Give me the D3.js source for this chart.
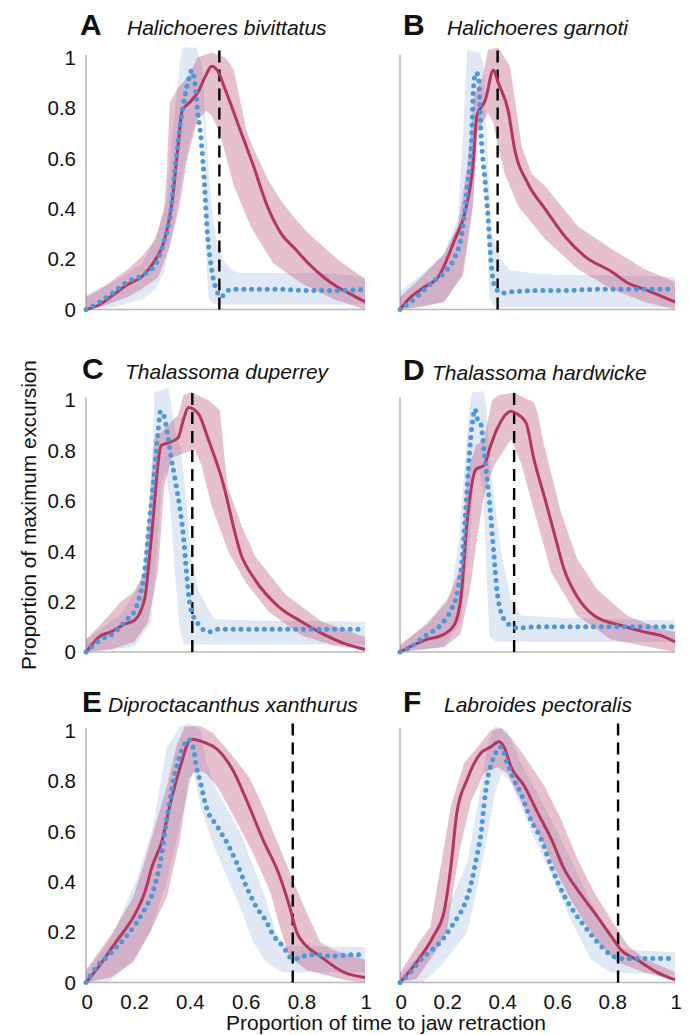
<!DOCTYPE html>
<html><head><meta charset="utf-8">
<script src="https://cdn.jsdelivr.net/npm/d3@7"></script>
<style>
body{margin:0;background:#fff}
svg{display:block}
text{font-family:"Liberation Sans",Arial,Helvetica,sans-serif;fill:#111}
</style>
</head><body>
<svg id="chart" width="689" height="1035"></svg>
<script>
// ---------------- DATA ----------------
const panelLetters = ["A","B","C","D","E","F"];
const speciesNames = ["Halichoeres bivittatus","Halichoeres garnoti","Thalassoma duperrey","Thalassoma hardwicke","Diproctacanthus xanthurus","Labroides pectoralis"];
const jawRetraction = [0.478, 0.355, 0.381, 0.415, 0.741, 0.793];
const yTickValues = [0, 0.2, 0.4, 0.6, 0.8, 1];
const yTickLabels = ["0","0.2","0.4","0.6","0.8","1"];
const xTickValues = [0, 0.2, 0.4, 0.6, 0.8, 1];
const xTickLabels = ["0","0.2","0.4","0.6","0.8","1"];
const xTitle = "Proportion of time to jaw retraction";
const yTitle = "Proportion of maximum excursion";

// Panel A
const A_pinkMean = [[0,0],[0.05,0.02],[0.1,0.06],[0.15,0.1],[0.2,0.13],[0.25,0.2],[0.28,0.27],[0.31,0.44],[0.33,0.65],[0.345,0.79],[0.37,0.82],[0.4,0.86],[0.43,0.93],[0.45,0.965],[0.47,0.95],[0.5,0.87],[0.55,0.72],[0.6,0.57],[0.65,0.41],[0.7,0.3],[0.75,0.24],[0.8,0.18],[0.85,0.13],[0.9,0.09],[0.95,0.06],[1,0.03]];
const A_pinkHi = [[0,0.05],[0.05,0.08],[0.1,0.12],[0.15,0.16],[0.2,0.21],[0.25,0.28],[0.28,0.4],[0.29,0.55],[0.3,0.82],[0.33,0.88],[0.37,0.93],[0.4,1.0],[0.45,1.02],[0.5,1.0],[0.53,0.95],[0.575,0.71],[0.6,0.64],[0.65,0.52],[0.7,0.43],[0.75,0.36],[0.8,0.3],[0.85,0.25],[0.9,0.2],[0.95,0.16],[1,0.12]];
const A_pinkLo = [[0,0],[0.05,0.01],[0.1,0.03],[0.15,0.05],[0.2,0.08],[0.26,0.13],[0.3,0.25],[0.335,0.41],[0.36,0.58],[0.38,0.67],[0.4,0.75],[0.43,0.79],[0.45,0.77],[0.48,0.7],[0.53,0.49],[0.59,0.33],[0.67,0.185],[0.77,0.105],[0.89,0.04],[1,0.0]];
const A_blueMean = [[0,0],[0.05,0.03],[0.1,0.07],[0.15,0.11],[0.2,0.135],[0.25,0.18],[0.28,0.27],[0.3,0.36],[0.32,0.57],[0.34,0.75],[0.355,0.85],[0.367,0.91],[0.38,0.95],[0.39,0.9],[0.4,0.79],[0.413,0.67],[0.425,0.49],[0.435,0.3],[0.445,0.2],[0.455,0.13],[0.47,0.07],[0.485,0.05],[0.5,0.07],[0.525,0.08],[0.6,0.08],[0.7,0.08],[0.8,0.075],[0.9,0.075],[1,0.08]];
const A_blueHi = [[0,0.06],[0.1,0.11],[0.2,0.18],[0.23,0.24],[0.26,0.32],[0.29,0.44],[0.31,0.7],[0.335,0.965],[0.345,1.04],[0.395,1.04],[0.418,0.965],[0.43,0.7],[0.443,0.5],[0.453,0.37],[0.47,0.26],[0.49,0.2],[0.52,0.16],[0.55,0.145],[0.7,0.145],[0.85,0.145],[1,0.13]];
const A_blueLo = [[0,0],[0.1,0.01],[0.2,0.04],[0.25,0.08],[0.28,0.15],[0.31,0.3],[0.34,0.5],[0.37,0.66],[0.4,0.77],[0.415,0.79],[0.423,0.72],[0.428,0.45],[0.433,0.15],[0.44,0.04],[0.46,0.02],[1,0.02]];

// Panel B
const B_pinkMean = [[0,0],[0.03,0.04],[0.09,0.09],[0.14,0.13],[0.2,0.28],[0.236,0.385],[0.265,0.57],[0.28,0.77],[0.31,0.83],[0.34,0.95],[0.357,0.9],[0.393,0.79],[0.418,0.63],[0.465,0.5],[0.527,0.4],[0.6,0.29],[0.673,0.21],[0.77,0.15],[0.83,0.104],[0.89,0.08],[0.935,0.06],[1,0.03]];
const B_pinkHi = [[0,0.05],[0.07,0.12],[0.16,0.22],[0.21,0.33],[0.245,0.57],[0.27,0.85],[0.3,0.92],[0.32,1.03],[0.357,1.04],[0.4,0.965],[0.418,0.83],[0.442,0.65],[0.478,0.54],[0.527,0.49],[0.647,0.33],[0.77,0.24],[0.89,0.16],[1,0.11]];
const B_pinkLo = [[0,0],[0.08,0.01],[0.16,0.03],[0.23,0.14],[0.265,0.41],[0.28,0.7],[0.32,0.78],[0.34,0.74],[0.353,0.66],[0.38,0.54],[0.43,0.41],[0.527,0.28],[0.647,0.16],[0.77,0.08],[0.89,0.03],[1,0.0]];
const B_blueMean = [[0,0],[0.05,0.04],[0.09,0.08],[0.12,0.11],[0.16,0.145],[0.2,0.21],[0.225,0.3],[0.245,0.49],[0.26,0.67],[0.265,0.83],[0.275,0.94],[0.285,0.93],[0.29,0.83],[0.295,0.7],[0.31,0.5],[0.32,0.37],[0.33,0.2],[0.345,0.09],[0.37,0.065],[0.405,0.07],[0.5,0.075],[0.6,0.075],[0.7,0.08],[0.8,0.08],[0.9,0.08],[1,0.08]];
const B_blueHi = [[0,0.07],[0.1,0.16],[0.16,0.22],[0.21,0.36],[0.23,0.7],[0.24,0.965],[0.245,1.03],[0.29,1.02],[0.306,0.96],[0.312,0.76],[0.32,0.58],[0.33,0.31],[0.367,0.2],[0.4,0.155],[0.527,0.14],[0.8,0.135],[1,0.13]];
const B_blueLo = [[0,0],[0.16,0.03],[0.225,0.13],[0.26,0.37],[0.28,0.6],[0.295,0.72],[0.305,0.74],[0.31,0.6],[0.318,0.3],[0.325,0.05],[0.345,0.01],[1,0.01]];

// Panel C
const C_pinkMean = [[0,0],[0.054,0.065],[0.09,0.08],[0.137,0.11],[0.173,0.125],[0.21,0.21],[0.234,0.45],[0.27,0.82],[0.295,0.83],[0.33,0.85],[0.35,0.925],[0.367,0.97],[0.403,0.945],[0.438,0.845],[0.486,0.69],[0.558,0.38],[0.604,0.29],[0.69,0.18],[0.773,0.12],[0.835,0.08],[0.935,0.03],[1,0.01]];
const C_pinkHi = [[0,0.05],[0.054,0.11],[0.126,0.2],[0.173,0.24],[0.21,0.32],[0.227,0.58],[0.245,0.845],[0.28,0.885],[0.33,0.94],[0.35,1.02],[0.378,1.03],[0.438,1.0],[0.48,0.96],[0.49,0.84],[0.507,0.66],[0.558,0.5],[0.606,0.38],[0.713,0.23],[0.847,0.12],[1,0.06]];
const C_pinkLo = [[0,0],[0.09,0.01],[0.173,0.04],[0.223,0.12],[0.258,0.32],[0.28,0.65],[0.306,0.77],[0.353,0.79],[0.39,0.805],[0.414,0.74],[0.45,0.58],[0.51,0.4],[0.57,0.28],[0.655,0.16],[0.773,0.065],[0.89,0.025],[1,0.01]];
const C_blueMean = [[0,0],[0.054,0.05],[0.1,0.075],[0.147,0.13],[0.173,0.16],[0.19,0.21],[0.21,0.32],[0.227,0.515],[0.245,0.71],[0.258,0.87],[0.267,0.955],[0.28,0.935],[0.295,0.845],[0.306,0.765],[0.317,0.7],[0.335,0.58],[0.35,0.45],[0.36,0.32],[0.374,0.18],[0.403,0.11],[0.44,0.08],[0.47,0.09],[0.6,0.09],[0.8,0.09],[1,0.09]];
const C_blueHi = [[0,0.05],[0.126,0.15],[0.2,0.28],[0.227,0.58],[0.24,0.845],[0.245,1.03],[0.295,1.05],[0.306,0.98],[0.32,0.88],[0.34,0.8],[0.36,0.6],[0.375,0.4],[0.403,0.24],[0.46,0.13],[0.6,0.125],[1,0.12]];
const C_blueLo = [[0,0],[0.173,0.02],[0.234,0.12],[0.258,0.45],[0.27,0.66],[0.285,0.72],[0.3,0.6],[0.32,0.3],[0.335,0.1],[0.35,0.03],[1,0.03]];

// Panel D
const D_pinkMean = [[0,0],[0.098,0.05],[0.15,0.065],[0.196,0.105],[0.222,0.22],[0.244,0.515],[0.276,0.725],[0.305,0.74],[0.33,0.82],[0.353,0.885],[0.404,0.955],[0.425,0.945],[0.458,0.91],[0.487,0.765],[0.524,0.62],[0.56,0.475],[0.596,0.33],[0.644,0.22],[0.705,0.145],[0.804,0.105],[0.887,0.08],[0.95,0.065],[1,0.04]];
const D_pinkHi = [[0,0.03],[0.098,0.11],[0.17,0.2],[0.222,0.34],[0.244,0.71],[0.276,0.82],[0.305,0.84],[0.335,1.0],[0.36,1.02],[0.415,1.03],[0.487,0.99],[0.5,0.95],[0.524,0.82],[0.585,0.555],[0.644,0.37],[0.716,0.25],[0.825,0.145],[0.95,0.09],[1,0.08]];
const D_pinkLo = [[0,0],[0.16,0.02],[0.22,0.07],[0.255,0.25],[0.28,0.45],[0.305,0.62],[0.342,0.74],[0.404,0.845],[0.44,0.75],[0.483,0.58],[0.55,0.315],[0.644,0.145],[0.767,0.05],[1,0]];
const D_blueMean = [[0,0],[0.04,0.02],[0.087,0.06],[0.15,0.11],[0.185,0.165],[0.21,0.245],[0.227,0.38],[0.24,0.58],[0.252,0.78],[0.262,0.9],[0.273,0.965],[0.28,0.93],[0.295,0.9],[0.305,0.805],[0.318,0.675],[0.33,0.54],[0.342,0.38],[0.353,0.24],[0.378,0.13],[0.404,0.105],[0.425,0.095],[0.5,0.1],[0.6,0.1],[0.7,0.1],[0.8,0.1],[0.9,0.1],[1,0.1]];
const D_blueHi = [[0,0.02],[0.1,0.12],[0.185,0.23],[0.215,0.45],[0.233,0.71],[0.252,0.975],[0.262,1.03],[0.305,1.035],[0.315,0.97],[0.33,0.715],[0.37,0.38],[0.404,0.21],[0.44,0.145],[0.6,0.135],[1,0.125]];
const D_blueLo = [[0,0],[0.16,0.02],[0.222,0.12],[0.255,0.45],[0.27,0.7],[0.29,0.72],[0.305,0.6],[0.315,0.3],[0.325,0.06],[0.35,0.04],[1,0.04]];

// Panel E
const E_pinkMean = [[0,0],[0.047,0.065],[0.107,0.16],[0.18,0.28],[0.21,0.355],[0.237,0.46],[0.273,0.565],[0.3,0.7],[0.335,0.845],[0.377,0.965],[0.43,0.95],[0.465,0.93],[0.525,0.845],[0.575,0.725],[0.635,0.565],[0.695,0.42],[0.73,0.3],[0.755,0.2],[0.79,0.145],[0.838,0.105],[0.925,0.04],[1,0.02]];
const E_pinkHi = [[0,0.05],[0.097,0.2],[0.17,0.34],[0.205,0.46],[0.25,0.63],[0.29,0.78],[0.325,0.94],[0.353,1.015],[0.406,1.02],[0.455,0.99],[0.525,0.9],[0.588,0.81],[0.635,0.695],[0.7,0.52],[0.74,0.41],[0.79,0.28],[0.84,0.16],[0.885,0.13],[1,0.09]];
const E_pinkLo = [[0,0],[0.087,0.02],[0.17,0.08],[0.23,0.2],[0.29,0.34],[0.335,0.56],[0.37,0.81],[0.394,0.845],[0.43,0.83],[0.475,0.77],[0.525,0.67],[0.6,0.51],[0.66,0.36],[0.7,0.2],[0.73,0.1],[0.79,0.05],[0.925,0.01],[1,0]];
const E_blueMean = [[0,0],[0.04,0.065],[0.087,0.115],[0.135,0.17],[0.17,0.22],[0.205,0.28],[0.24,0.36],[0.265,0.47],[0.29,0.65],[0.315,0.81],[0.345,0.925],[0.367,0.965],[0.385,0.93],[0.395,0.86],[0.41,0.795],[0.43,0.7],[0.47,0.62],[0.505,0.555],[0.54,0.475],[0.575,0.38],[0.61,0.3],[0.645,0.245],[0.67,0.19],[0.705,0.145],[0.74,0.095],[0.76,0.095],[0.795,0.11],[0.83,0.11],[0.88,0.105],[0.95,0.11],[1,0.11]];
const E_blueHi = [[0,0.04],[0.087,0.17],[0.182,0.41],[0.24,0.62],[0.29,0.935],[0.338,1.015],[0.37,1.03],[0.41,1.0],[0.43,0.88],[0.46,0.78],[0.505,0.69],[0.555,0.59],[0.6,0.46],[0.645,0.33],[0.68,0.2],[0.715,0.145],[0.8,0.145],[1,0.14]];
const E_blueLo = [[0,0],[0.087,0.005],[0.17,0.09],[0.23,0.2],[0.29,0.4],[0.335,0.62],[0.385,0.84],[0.41,0.7],[0.455,0.55],[0.505,0.42],[0.555,0.29],[0.6,0.16],[0.645,0.08],[0.705,0.04],[1,0.04]];

// Panel F
const F_pinkMean = [[0,0],[0.06,0.08],[0.122,0.185],[0.16,0.28],[0.185,0.46],[0.207,0.675],[0.244,0.805],[0.293,0.91],[0.33,0.935],[0.36,0.955],[0.378,0.935],[0.404,0.855],[0.452,0.78],[0.5,0.675],[0.55,0.57],[0.597,0.45],[0.644,0.37],[0.705,0.28],[0.767,0.185],[0.803,0.13],[0.862,0.09],[0.935,0.04],[1,0.01]];
const F_pinkHi = [[0,0.04],[0.07,0.16],[0.11,0.22],[0.148,0.46],[0.185,0.7],[0.233,0.87],[0.282,0.935],[0.33,1.0],[0.367,1.01],[0.404,0.97],[0.452,0.9],[0.525,0.78],[0.585,0.65],[0.645,0.49],[0.705,0.36],[0.767,0.25],[0.83,0.145],[0.89,0.095],[1,0.04]];
const F_pinkLo = [[0,0],[0.06,0.015],[0.122,0.11],[0.17,0.2],[0.195,0.38],[0.22,0.54],[0.257,0.715],[0.305,0.83],[0.355,0.855],[0.39,0.83],[0.426,0.75],[0.476,0.645],[0.525,0.545],[0.575,0.425],[0.62,0.33],[0.67,0.24],[0.73,0.145],[0.79,0.08],[0.89,0.04],[1,0.01]];
const F_blueMean = [[0,0],[0.037,0.04],[0.085,0.1],[0.122,0.135],[0.158,0.175],[0.183,0.215],[0.207,0.255],[0.233,0.305],[0.257,0.385],[0.27,0.45],[0.282,0.515],[0.295,0.595],[0.305,0.7],[0.318,0.805],[0.33,0.86],[0.348,0.91],[0.366,0.935],[0.39,0.87],[0.415,0.805],[0.44,0.75],[0.476,0.645],[0.513,0.57],[0.55,0.46],[0.597,0.345],[0.633,0.28],[0.67,0.225],[0.718,0.16],[0.767,0.11],[0.803,0.095],[0.85,0.095],[0.92,0.095],[1,0.095]];
const F_blueHi = [[0,0.03],[0.1,0.15],[0.195,0.35],[0.245,0.48],[0.282,0.7],[0.318,0.935],[0.343,1.02],[0.39,1.0],[0.44,0.87],[0.49,0.77],[0.55,0.645],[0.62,0.49],[0.682,0.345],[0.742,0.225],[0.78,0.145],[0.83,0.13],[1,0.12]];
const F_blueLo = [[0,0],[0.085,0],[0.16,0.08],[0.245,0.2],[0.285,0.4],[0.32,0.6],[0.345,0.75],[0.37,0.83],[0.4,0.8],[0.44,0.7],[0.476,0.6],[0.55,0.43],[0.62,0.25],[0.694,0.09],[0.767,0.04],[1,0.03]];

const pinkMeans = [A_pinkMean,B_pinkMean,C_pinkMean,D_pinkMean,E_pinkMean,F_pinkMean];
const pinkHis = [A_pinkHi,B_pinkHi,C_pinkHi,D_pinkHi,E_pinkHi,F_pinkHi];
const pinkLos = [A_pinkLo,B_pinkLo,C_pinkLo,D_pinkLo,E_pinkLo,F_pinkLo];
const blueMeans = [A_blueMean,B_blueMean,C_blueMean,D_blueMean,E_blueMean,F_blueMean];
const blueHis = [A_blueHi,B_blueHi,C_blueHi,D_blueHi,E_blueHi,F_blueHi];
const blueLos = [A_blueLo,B_blueLo,C_blueLo,D_blueLo,E_blueLo,F_blueLo];

// ---------------- LAYOUT / STYLE ----------------
const colX0 = [86, 400], colW = [279, 275];
const rowY0 = [309.5, 652, 982.5], PH = 252;
const letterX = [80, 403, 82, 403, 82, 403];
const speciesX = [127, 447, 125, 432, 108, 444];
const titleBase = [35, 35, 379, 380, 712, 712];
const PINK = "#b2365f", PINK_BAND = "rgba(180,60,100,0.32)";
const BLUE = "#4b97d9", BLUE_BAND = "rgba(100,140,210,0.2)";
const AXIS = "#b8b8b8";

const svg = d3.select("#chart");
svg.append("rect").attr("width",689).attr("height",1035).attr("fill","#fff");

panelLetters.forEach((L, i) => {
  const col = i % 2, row = Math.floor(i / 2);
  const x = d3.scaleLinear().domain([0,1]).range([colX0[col], colX0[col] + colW[col]]);
  const y = d3.scaleLinear().domain([0,1]).range([rowY0[row], rowY0[row] - PH]);
  const g = svg.append("g");

  g.append("line").attr("x1", x(0)).attr("x2", x(1)).attr("y1", y(0)).attr("y2", y(0))
    .attr("stroke", AXIS).attr("stroke-width", 1.6);
  g.append("line").attr("x1", x(0)).attr("x2", x(0)).attr("y1", y(0)).attr("y2", y(1.01))
    .attr("stroke", AXIS).attr("stroke-width", 1.6);

  if (col === 0) {
    g.selectAll(".yt").data(yTickValues).join("text")
      .attr("x", x(0) - 10).attr("y", d => y(d)).attr("dy", "0.36em")
      .attr("text-anchor", "end").attr("font-size", 20.5)
      .text((d, k) => yTickLabels[k]);
  }
  if (row === 2) {
    g.selectAll(".xt").data(xTickValues).join("text")
      .attr("x", d => x(d) + 7).attr("y", 1009)
      .attr("text-anchor", "end").attr("font-size", 20.5)
      .text((d, k) => xTickLabels[k]);
  }

  const band = (hi, lo) => {
    const ln = d3.line().x(d => x(d[0])).y(d => y(d[1])).curve(d3.curveLinear);
    return ln(hi.concat(lo.slice().reverse())) + "Z";
  };
  const mline = d3.line().x(d => x(d[0])).y(d => y(d[1])).curve(d3.curveMonotoneX);

  g.append("path").attr("d", band(blueHis[i], blueLos[i])).attr("fill", BLUE_BAND);
  g.append("path").attr("d", band(pinkHis[i], pinkLos[i])).attr("fill", PINK_BAND);

  g.append("line").attr("x1", x(jawRetraction[i])).attr("x2", x(jawRetraction[i]))
    .attr("y1", y(0)).attr("y2", y(1.04))
    .attr("stroke", "#000").attr("stroke-width", 2.4).attr("stroke-dasharray", "12,7");

  g.append("path").attr("d", mline(pinkMeans[i])).attr("fill", "none")
    .attr("stroke", PINK).attr("stroke-width", 3).attr("stroke-linejoin", "round");
  g.append("path").attr("d", mline(blueMeans[i])).attr("fill", "none")
    .attr("stroke", BLUE).attr("stroke-width", 5).attr("stroke-linecap", "round")
    .attr("stroke-dasharray", "0,7.8");

  g.append("text").attr("x", letterX[i]).attr("y", titleBase[i])
    .attr("font-size", 30).attr("font-weight", "bold").text(L);
  g.append("text").attr("x", speciesX[i]).attr("y", titleBase[i])
    .attr("font-size", 21).attr("font-style", "italic").text(speciesNames[i]);
});

svg.append("text").attr("x", 386).attr("y", 1030).attr("text-anchor", "middle")
  .attr("font-size", 21).text(xTitle);
svg.append("text").attr("transform", "translate(36,515) rotate(-90)")
  .attr("text-anchor", "middle").attr("font-size", 20.8).text(yTitle);
</script>
</body></html>
